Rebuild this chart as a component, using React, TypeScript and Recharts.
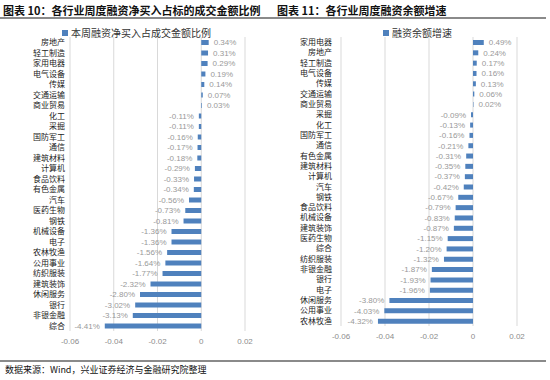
import React from 'react';
import { BarChart, Bar, XAxis, YAxis, CartesianGrid, LabelList } from 'recharts';

// 图表10: 本周融资净买入占成交金额比例 (%)
const leftNames = [
  '房地产', '轻工制造', '家用电器', '电气设备', '传媒', '交通运输', '商业贸易',
  '化工', '采掘', '国防军工', '通信', '建筑材料', '计算机', '食品饮料',
  '有色金属', '汽车', '医药生物', '钢铁', '机械设备', '电子', '农林牧渔',
  '公用事业', '纺织服装', '建筑装饰', '休闲服务', '银行', '非银金融', '综合',
];
const leftValues = [
  0.34, 0.31, 0.29, 0.19, 0.14, 0.07, 0.03,
  -0.11, -0.11, -0.16, -0.17, -0.18, -0.29, -0.33,
  -0.34, -0.56, -0.73, -0.81, -1.36, -1.36, -1.56,
  -1.64, -1.77, -2.32, -2.8, -3.02, -3.13, -4.41,
];

// 图表11: 融资余额增速 (%)
const rightNames = [
  '家用电器', '房地产', '轻工制造', '电气设备', '传媒', '交通运输', '商业贸易',
  '采掘', '化工', '国防军工', '通信', '有色金属', '建筑材料', '计算机',
  '汽车', '钢铁', '食品饮料', '机械设备', '建筑装饰', '医药生物', '综合',
  '纺织服装', '非银金融', '银行', '电子', '休闲服务', '公用事业', '农林牧渔',
];
const rightValues = [
  0.49, 0.24, 0.17, 0.16, 0.13, 0.06, 0.02,
  -0.09, -0.13, -0.16, -0.21, -0.31, -0.35, -0.37,
  -0.42, -0.67, -0.79, -0.83, -0.87, -1.15, -1.2,
  -1.32, -1.87, -1.93, -1.96, -3.8, -4.03, -4.32,
];

const xTicks = [-0.06, -0.04, -0.02, 0, 0.02];

const BLUE = '#4F81BD';
const FONT = '"Liberation Sans", "Noto Sans CJK SC", sans-serif';

const toRows = (names: string[], values: number[]) =>
  names.map((name, i) => ({ name, value: values[i] / 100, pct: values[i] }));

const ValueLabel = (props: any) => {
  const { x, y, width, height, value } = props;
  const left = Math.min(x, x + width);
  const right = Math.max(x, x + width);
  const pos = value >= 0;
  return (
    <text
      x={pos ? right + 5 : left - 5}
      y={y + height / 2}
      dy="0.35em"
      textAnchor={pos ? 'start' : 'end'}
      fontSize={8}
      fill="#999"
      fontFamily={FONT}
    >
      {`${value.toFixed(2)}%`}
    </text>
  );
};

interface PanelProps {
  names: string[];
  values: number[];
  left: number;
  yWidth: number;
  tickGap: number;
  marginRight: number;
  marginTop: number;
  marginBottom: number;
}

const Panel = ({ names, values, left, yWidth, tickGap, marginRight, marginTop, marginBottom }: PanelProps) => (
  <div style={{ position: 'absolute', left, top: 0 }}>
    <BarChart
      width={275}
      height={350}
      layout="vertical"
      data={toRows(names, values)}
      margin={{ top: marginTop, right: marginRight, bottom: marginBottom, left: 0 }}
      barSize={5}
    >
      <CartesianGrid horizontal={false} stroke="#D9D9D9" />
      <XAxis
        type="number"
        domain={[-0.06, 0.02]}
        ticks={xTicks}
        tickFormatter={(v: number) => (v === 0 ? '0' : v.toFixed(2))}
        axisLine={false}
        tickLine={false}
        tickSize={0}
        tickMargin={7}
        height={12}
        tick={{ fontSize: 8, fill: '#8c8c8c', fontFamily: FONT }}
      />
      <YAxis
        type="category"
        dataKey="name"
        width={yWidth}
        interval={0}
        axisLine={false}
        tickLine={false}
        tickSize={0}
        tickMargin={tickGap}
        tick={{ fontSize: 8, fill: '#222', fontFamily: FONT }}
      />
      <Bar dataKey="value" fill={BLUE} isAnimationActive={false}>
        <LabelList dataKey="pct" content={<ValueLabel />} />
      </Bar>
    </BarChart>
  </div>
);

const LegendItem = ({ x, text }: { x: number; text: string }) => (
  <div
    style={{
      position: 'absolute',
      left: x,
      top: 25,
      display: 'flex',
      alignItems: 'center',
      fontSize: 10,
      color: '#333',
      fontFamily: FONT,
      whiteSpace: 'nowrap',
    }}
  >
    <span style={{ width: 6, height: 6, background: BLUE, marginRight: 3, display: 'inline-block' }} />
    {text}
  </div>
);

const titleStyle: React.CSSProperties = {
  position: 'absolute',
  top: 2,
  fontSize: 11,
  fontWeight: 'bold',
  color: '#111',
  fontFamily: '"Noto Sans CJK SC", sans-serif',
  whiteSpace: 'nowrap',
};

export default function App() {
  return (
    <div
      style={{
        position: 'absolute',
        left: 0,
        top: 0,
        width: 550,
        height: 380,
        background: '#fff',
        overflow: 'hidden',
      }}
    >
      <div style={{ ...titleStyle, left: 3 }}>图表 10：各行业周度融资净买入占标的成交金额比例</div>
      <div style={{ ...titleStyle, left: 277 }}>图表 11：各行业周度融资余额增速</div>
      <div style={{ position: 'absolute', left: 0, top: 17, width: 546, height: 2, background: '#8a8a8a' }} />

      <Panel
        names={leftNames}
        values={leftValues}
        left={0}
        yWidth={70}
        tickGap={5}
        marginRight={30}
        marginTop={37}
        marginBottom={7}
      />
      <Panel
        names={rightNames}
        values={rightValues}
        left={275}
        yWidth={66}
        tickGap={9}
        marginRight={33}
        marginTop={37}
        marginBottom={12}
      />
      <LegendItem x={62} text="本周融资净买入占成交金额比例" />
      <LegendItem x={383} text="融资余额增速" />

      <div style={{ position: 'absolute', left: 0, top: 360, width: 546, height: 2, background: '#8a8a8a' }} />
      <div
        style={{
          position: 'absolute',
          left: 5,
          top: 363,
          fontSize: 9,
          color: '#111',
          fontFamily: '"Noto Sans CJK SC", sans-serif',
          whiteSpace: 'nowrap',
        }}
      >
        数据来源：Wind，兴业证券经济与金融研究院整理
      </div>
    </div>
  );
}
